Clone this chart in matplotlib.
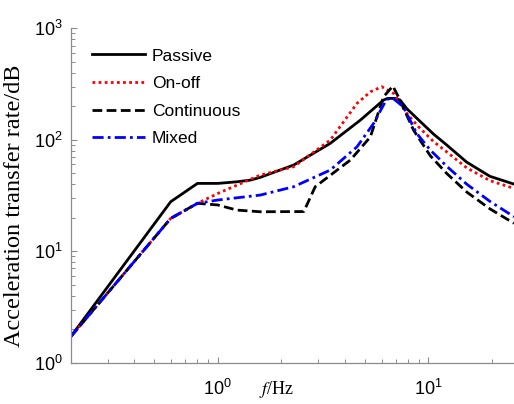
import matplotlib
matplotlib.use("Agg")
import matplotlib.pyplot as plt
from matplotlib.ticker import LogLocator, NullFormatter

plt.rcParams['font.family'] = ['Liberation Sans', 'DejaVu Sans']
plt.rcParams['mathtext.fontset'] = 'custom'
plt.rcParams['mathtext.rm'] = 'Liberation Sans'
plt.rcParams['mathtext.it'] = 'Liberation Sans:italic'

# ---- data ----
f_passive = [0.2, 0.597, 0.80, 1.0, 1.236, 1.43, 1.59, 2.29, 3.42, 4.75, 6.12, 6.4, 7.0, 7.34, 7.9, 9.0, 10.6, 12.2, 15.2, 19.6, 25.5]
y_passive = [1.71, 27.8, 40.6, 40.6, 42, 43.5, 46, 59.3, 92.9, 150, 227, 235, 235, 227, 190, 150, 112, 90, 63, 47, 40]

f_onoff = [0.2, 0.597, 0.80, 1.0, 1.59, 2.29, 3.42, 4.58, 5.3, 6.0, 6.83, 7.9, 9.0, 10.6, 12.2, 15.2, 19.6, 25.5]
y_onoff = [1.71, 19.7, 26.9, 33, 48.2, 57.3, 99.4, 212, 269, 299, 261, 172, 130, 96, 78, 56, 43, 36.6]

f_cont = [0.2, 0.597, 0.80, 1.0, 1.23, 1.59, 2.56, 2.9, 4.26, 5.3, 6.12, 6.78, 7.2, 8.5, 10.2, 12.2, 15.2, 19.6, 25.5]
y_cont = [1.71, 19.7, 26.9, 26, 23.4, 22.6, 22.7, 37.9, 65.8, 106, 243, 303, 243, 122, 72, 50, 34, 24, 17.8]

f_mixed = [0.2, 0.597, 0.80, 1.0, 1.59, 2.29, 3.42, 4.58, 5.49, 6.3, 6.7, 7.6, 8.8, 10.2, 12.2, 15.2, 19.6, 25.5]
y_mixed = [1.71, 19.7, 26.9, 28.8, 31.9, 37.9, 53.5, 86.5, 140, 227, 240, 198, 114, 81, 58, 40, 28, 20.4]

labels = ["Passive", "On-off", "Continuous", "Mixed"]

fig = plt.figure(figsize=(5.14, 4.04), dpi=100)
ax = fig.add_axes([70.7/514, (404-362.7)/404, 1 - 70.7/514, (362.7-28.3)/404])

ax.plot(f_passive, y_passive, color='black', lw=2.0, ls='-', label=labels[0])
ax.plot(f_onoff, y_onoff, color='red', lw=2.0, ls=(0, (1, 1.2)), label=labels[1])
ax.plot(f_cont, y_cont, color='black', lw=2.0, ls=(0, (3.5, 1.6)), label=labels[2])
ax.plot(f_mixed, y_mixed, color='blue', lw=2.0, ls=(0, (4, 1.5, 1, 1.5)), label=labels[3])

ax.set_xscale('log')
ax.set_yscale('log')
ax.set_xlim(0.2, 25.5)
ax.set_ylim(1, 1000)

for s in ['top', 'right']:
    ax.spines[s].set_visible(False)
for s in ['left', 'bottom']:
    ax.spines[s].set_color('#8c8c8c')
    ax.spines[s].set_linewidth(0.9)

ax.xaxis.set_minor_locator(LogLocator(base=10, subs=range(2, 10), numticks=20))
ax.yaxis.set_minor_locator(LogLocator(base=10, subs=range(2, 10), numticks=20))
ax.xaxis.set_minor_formatter(NullFormatter())
ax.yaxis.set_minor_formatter(NullFormatter())
ax.tick_params(which='both', direction='in', color='#8c8c8c', labelsize=13)
ax.tick_params(which='major', length=4.5, width=0.8)
ax.tick_params(which='minor', length=3, width=0.7)
ax.tick_params(axis='x', which='major', pad=12)
ax.tick_params(axis='y', which='major', pad=6)

ax.set_ylabel("Acceleration transfer rate/dB", family='Liberation Serif', fontsize=17.5)
ax.yaxis.set_label_coords(-0.103, 0.47)
fig.text(277/514, 1 - 390/404, r"$\it{f}$/Hz", family='Liberation Serif', fontsize=13,
         ha='center', va='center', math_fontfamily='stix')

leg = ax.legend(loc='upper left', bbox_to_anchor=(0.048, 0.94), frameon=False,
                fontsize=12.5, handlelength=3.05, handletextpad=0.4, labelspacing=0.72,
                borderpad=0, borderaxespad=0)

fig.savefig("out.png", dpi=100)
